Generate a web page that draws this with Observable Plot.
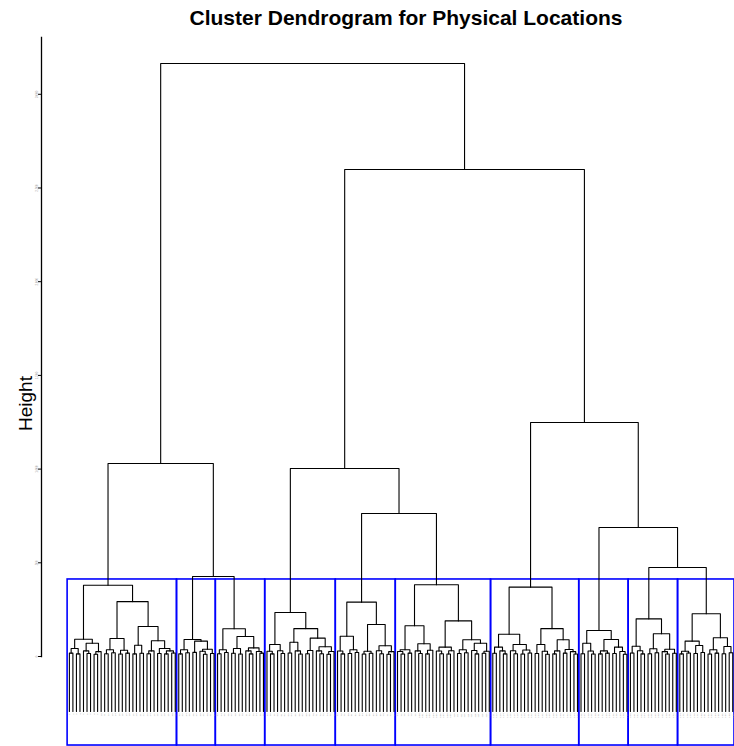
<!DOCTYPE html>
<html><head><meta charset="utf-8">
<script src="https://cdn.jsdelivr.net/npm/d3@7"></script>
<script src="https://cdn.jsdelivr.net/npm/@observablehq/plot@0.6"></script>
<style>body{margin:0;background:#fff}</style>
</head><body><div id="chart"></div>
<script>
const chartTitle = "Cluster Dendrogram for Physical Locations";
const yLabel = "Height";
const yTicks = [0, 500, 1000, 1500, 2000, 2500, 3000];
// each cluster: (left,right)height ; x = leaf
const clusterTrees = [
  "((((x,x)18,(x,x)14)43,((x,(x,x)16)30,((x,x)12,x)26)71)92,((((x,x)15,(x,x)20)36,((x,x)13,(x,x)18)33)96,(((x,x)14,(x,x)17)60,(((x,x)15,x)30,((x,x)16,((x,x)14,(x,x)19)30)43)84)160)293)380",
  "(((x,x)14,(x,x)20)36,((x,x)22,((x,(x,x)12)28,(x,x)16)39)82)91",
  "(((x,x)15,(x,x)21)36,(((x,x)17,(x,x)13)43,((x,(x,x)14)30,(x,(x,x)18)27)46)107)148",
  "(((x,(x,x)14)28,(x,(x,x)16)31)64,(((x,x)19,(x,(x,x)13)30)76,(((x,x)15,x)32,((x,(x,x)15)30,((x,x)12,x)27)52)98)149)235",
  "(((x,(x,x)14)29,((x,x)16,(x,x)21)36)108,(((x,x)13,(x,x)17)28,((x,(x,x)15)31,((x,x)12,x)26)57)171)290",
  "((((x,(x,x)13)27,(x,x)18)36,((x,(x,x)16)30,((x,x)14,x)33)68)164,(((x,(x,x)15)29,((x,x)13,x)31)50,(((x,x)16,(x,x)20)36,((x,(x,x)14)32,((x,x)17,x)28)71)89)190)383",
  "((((x,x)17,(x,(x,x)14)30)50,((x,(x,x)15)31,((x,x)13,(x,x)19)35)64)119,(((x,x)16,(x,(x,x)12)28)64,(((x,x)14,x)30,((x,x)18,(x,(x,x)13)26)37)89)149)370",
  "(((x,x)15,(x,(x,x)13)29)71,(((x,x)14,(x,x)18)30,((x,x)16,(x,(x,x)12)27)50)91)139",
  "(((x,x)19,(x,(x,x)14)31)55,(((x,x)15,(x,x)20)41,((x,(x,x)13)26,(x,x)17)39)121)201",
  "((((x,x)14,(x,x)19)28,((x,x)16,(x,x)21)59)82,(((x,x)13,(x,x)18)36,((x,x)15,(x,x)20)53)100)228"
];
const topology = "((#1,(#2,#3)427)1030,((#4,(#5,#6)763)1003,(#7,(#8,(#9,#10)475)688)1249)2599)3164";
const cutHeight = 411;
const leafEnd = -293;
const labelTop = -304;
const rectBottom = -475;
const leafLabels = ("1 2 3 4 5 6 7 8 9 10 11 12 13 14 15 16 17 18 19 20 21 22 23 24 25 26 27 28 29 30 " +
  "31 32 33 34 35 36 37 38 39 40 41 42 43 44 45 46 47 48 49 50 51 52 53 54 55 56 57 58 59 60 " +
  "61 62 63 64 65 66 67 68 69 70 71 72 73 74 75 76 77 78 79 80 81 82 83 84 85 86 87 88 89 90 " +
  "91 92 93 94 95 96 97 98 99 100 101 102 103 104 105 106 107 108 109 110 111 112 113 114 115 116 117 118 119 120 " +
  "121 122 123 124 125 126 127 128 129 130 131 132 133 134 135 136 137 138 139 140 141 142 143 144 145 146 147 148 149 150 " +
  "151 152 153 154 155 156 157 158 159 160 161 162 163 164 165 166 167 168 169 170 171 172 173 174 175 176 177 178 179 180 " +
  "181 182 183 184 185 186 187 188 189").split(" ");

function parse(s) {
  let i = 0;
  function node() {
    if (s[i] === "(") {
      i++;
      const a = node(); i++; // ,
      const b = node(); i++; // )
      let j = i;
      while (j < s.length && /[0-9.]/.test(s[j])) j++;
      const h = +s.slice(i, j); i = j;
      return {h, children: [a, b]};
    }
    i++;
    return {leaf: true};
  }
  return node();
}

const full = topology.replace(/#(\d+)/g, (m, k) => clusterTrees[+k - 1]);
const root = parse(full);
let leafIndex = 0;
const leaves = [];
const points = [];
let nodeId = 0;
function layout(n) {
  if (n.leaf) {
    n.x = leafIndex++; n.y = leafEnd;
    leaves.push({x: n.x, label: leafLabels[n.x]});
    return;
  }
  n.children.forEach(layout);
  const [a, b] = n.children;
  n.x = (a.x + b.x) / 2; n.y = n.h;
  const id = nodeId++;
  points.push({id, x: a.x, y: a.y}, {id, x: a.x, y: n.h}, {id, x: b.x, y: n.h}, {id, x: b.x, y: b.y});
}
layout(root);

const clusters = [];
let start = 0;
for (const s of clusterTrees) {
  const n = s.split("x").length - 1;
  clusters.push({first: start, last: start + n - 1});
  start += n;
}

const plot = Plot.plot({
  width: 734, height: 746,
  marginLeft: 41, marginRight: 0, marginTop: 37, marginBottom: 90,
  x: {domain: [-7.9, 188.5], axis: null},
  y: {domain: [0, 3303]},
  style: {fontFamily: "'Liberation Sans', Arial, sans-serif", background: "white", overflow: "visible"},
  marks: [
    Plot.rect(clusters, {x1: d => d.first - 0.5, x2: d => d.last + 0.5, y1: rectBottom, y2: cutHeight, fill: "none", stroke: "#0000FF", strokeWidth: 1.6}),
    Plot.line(points, {x: "x", y: "y", z: "id", stroke: "black", strokeWidth: 1.1, curve: "linear"}),
    Plot.text(leaves, {x: "x", y: labelTop, text: "label", rotate: -90, textAnchor: "end", fontSize: 2.5, fill: "#999"}),
    Plot.frame({anchor: "left", stroke: "black", strokeWidth: 1.3}),
    Plot.axisY({ticks: yTicks, tickSize: 3, tickFormat: () => "", label: null, stroke: "black"}),
    Plot.axisY({ticks: yTicks, tickSize: 0, tickPadding: 4, tickRotate: -90, fontSize: 3, fill: "#999", label: null}),
    Plot.text([chartTitle], {frameAnchor: "top", dx: 18, dy: -27, fontSize: 21, fontWeight: "bold", fill: "black"}),
    Plot.text([yLabel], {frameAnchor: "left", dx: -16, dy: 84, rotate: -90, fontSize: 19, fill: "black"})
  ]
});
document.getElementById("chart").appendChild(plot);
</script>
</body></html>
